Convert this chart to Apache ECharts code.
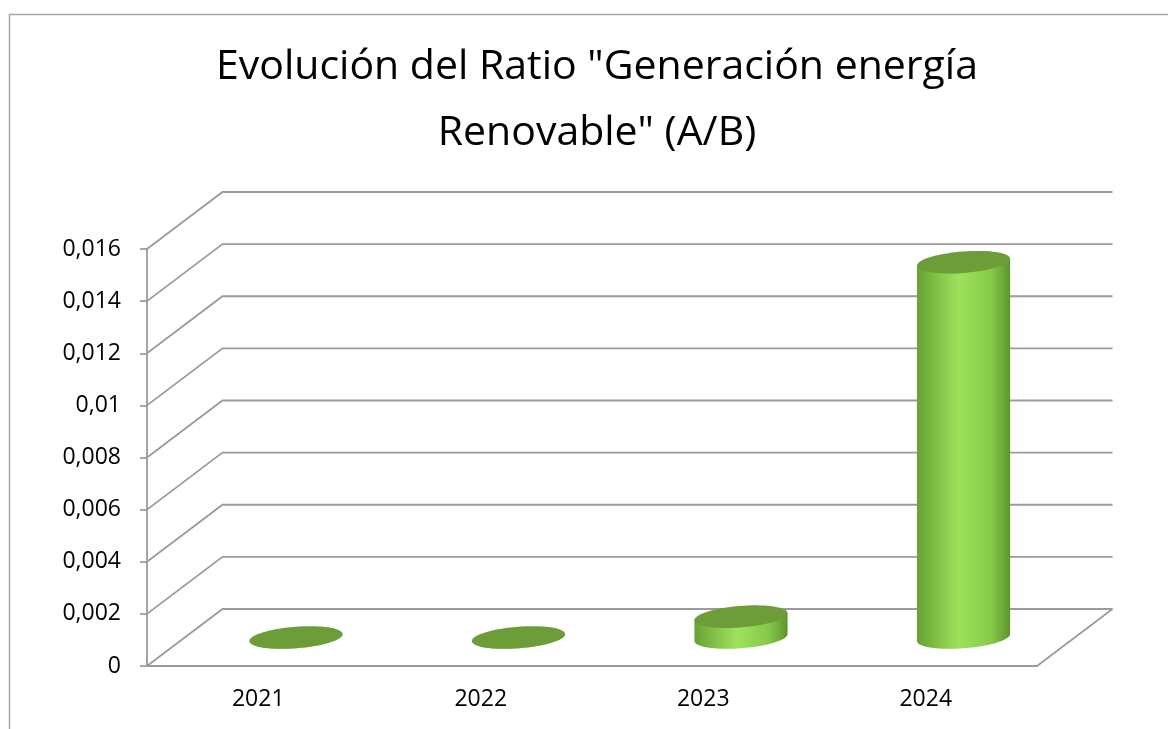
<!DOCTYPE html>
<html>
<head>
<meta charset="utf-8">
<script src="https://cdn.jsdelivr.net/npm/echarts@6/dist/echarts.min.js"></script>
<style>
  html, body { margin: 0; padding: 0; background: #fff; }
  #chart { width: 1168px; height: 729px; }
</style>
</head>
<body>
<div id="chart"></div>
<script>
const years = ['2021', '2022', '2023', '2024']
const ratio = [0, 0, 0.0008, 0.0144]
const yTicks = [0, 0.002, 0.004, 0.006, 0.008, 0.01, 0.012, 0.014, 0.016]
const titleText = 'Evolución del Ratio "Generación energía\nRenovable" (A/B)'

// depth of the 3d box, in pixels
const DX = 75.5
const DY = -57
const lineColor = '#9b9b9b'

const chart = echarts.init(document.getElementById('chart'))

function ellipsePoint(cx, cy, rx, ry, phi, t) {
  const X = rx * Math.cos(t)
  const Y = ry * Math.sin(t)
  return [cx + X * Math.cos(phi) + Y * Math.sin(phi), cy - X * Math.sin(phi) + Y * Math.cos(phi)]
}

function renderFrame(params, api) {
  const cs = params.coordSys
  const v = api.value(1)
  const y = api.coord([0, v])[1]
  const x0 = cs.x
  const x1 = cs.x + cs.width
  const style = { stroke: lineColor, lineWidth: 1.8, fill: null }
  const children = [{
    type: 'polyline',
    shape: { points: [[x0, y], [x0 + DX, y + DY], [x1 + DX, y + DY]] },
    style,
  }]
  if (v === 0) {
    children.push({ type: 'line', shape: { x1: x1, y1: y, x2: x1 + DX, y2: y + DY }, style })
  }
  return { type: 'group', children }
}

function renderCylinder(params, api) {
  const catW = api.size([1, 0])[0]
  const rx = catW * 0.21
  const ry = rx * 0.23
  const phi = 4.5 * Math.PI / 180
  const base = api.coord([api.value(0), 0])
  const top = api.coord([api.value(0), api.value(1)])
  const cx = base[0] + DX / 2
  const by = base[1] + DY / 2
  const ty = top[1] + DY / 2

  // tangent points of the silhouette
  const tR = Math.atan2(ry * Math.sin(phi), rx * Math.cos(phi))
  const tL = tR + Math.PI
  const pts = [ellipsePoint(cx, ty, rx, ry, phi, tL), ellipsePoint(cx, ty, rx, ry, phi, tR)]
  const n = 40
  for (let i = 0; i <= n; i++) {
    pts.push(ellipsePoint(cx, by, rx, ry, phi, tR + (tL - tR) * i / n))
  }
  const cap = []
  for (let i = 0; i < 72; i++) {
    cap.push(ellipsePoint(cx, ty, rx, ry, phi, i / 72 * Math.PI * 2))
  }
  return {
    type: 'group',
    children: [
      {
        type: 'polygon',
        shape: { points: pts },
        style: {
          fill: new echarts.graphic.LinearGradient(0, 0, 1, 0, [
            { offset: 0, color: '#68a233' },
            { offset: 0.45, color: '#9ee25c' },
            { offset: 0.8, color: '#86c949' },
            { offset: 1, color: '#5c942c' },
          ]),
        },
      },
      { type: 'polygon', shape: { points: cap }, style: { fill: '#6d9d38' } },
    ],
  }
}

chart.setOption({
  animation: false,
  graphic: [{
    type: 'rect',
    shape: { x: 9.5, y: 14.5, width: 1300, height: 900 },
    style: { fill: null, stroke: '#a6a6a6', lineWidth: 1.5 },
    silent: true,
  }],
  title: {
    text: titleText,
    left: 592,
    top: 29,
    textAlign: 'center',
    textStyle: { fontFamily: 'Open Sans', fontSize: 41, fontWeight: 'normal', color: '#000', lineHeight: 66 },
  },
  grid: { left: 147, right: 131, top: 249, bottom: 63 },
  xAxis: {
    type: 'category',
    data: years,
    axisLine: { lineStyle: { color: lineColor, width: 1.8 } },
    axisTick: { length: 8, lineStyle: { color: lineColor, width: 1.8 } },
    axisLabel: { margin: 22, fontFamily: 'Open Sans', fontSize: 23, color: '#000' },
  },
  yAxis: {
    type: 'value',
    min: yTicks[0],
    max: yTicks[yTicks.length - 1],
    interval: yTicks[1] - yTicks[0],
    splitLine: { show: false },
    axisLine: { show: true, lineStyle: { color: lineColor, width: 1.8 } },
    axisTick: { show: true, length: 7, lineStyle: { color: lineColor, width: 1.8 } },
    axisLabel: {
      margin: 26,
      fontFamily: 'Open Sans',
      fontSize: 23,
      color: '#000',
      formatter: v => String(+v.toFixed(3)).replace('.', ','),
    },
  },
  series: [
    {
      type: 'custom',
      z: 1,
      clip: false,
      silent: true,
      renderItem: renderFrame,
      data: yTicks.map(v => [0, v]),
    },
    {
      type: 'custom',
      z: 3,
      clip: false,
      renderItem: renderCylinder,
      data: years.map((y, i) => [i, ratio[i]]),
    },
  ],
})
</script>
</body>
</html>
